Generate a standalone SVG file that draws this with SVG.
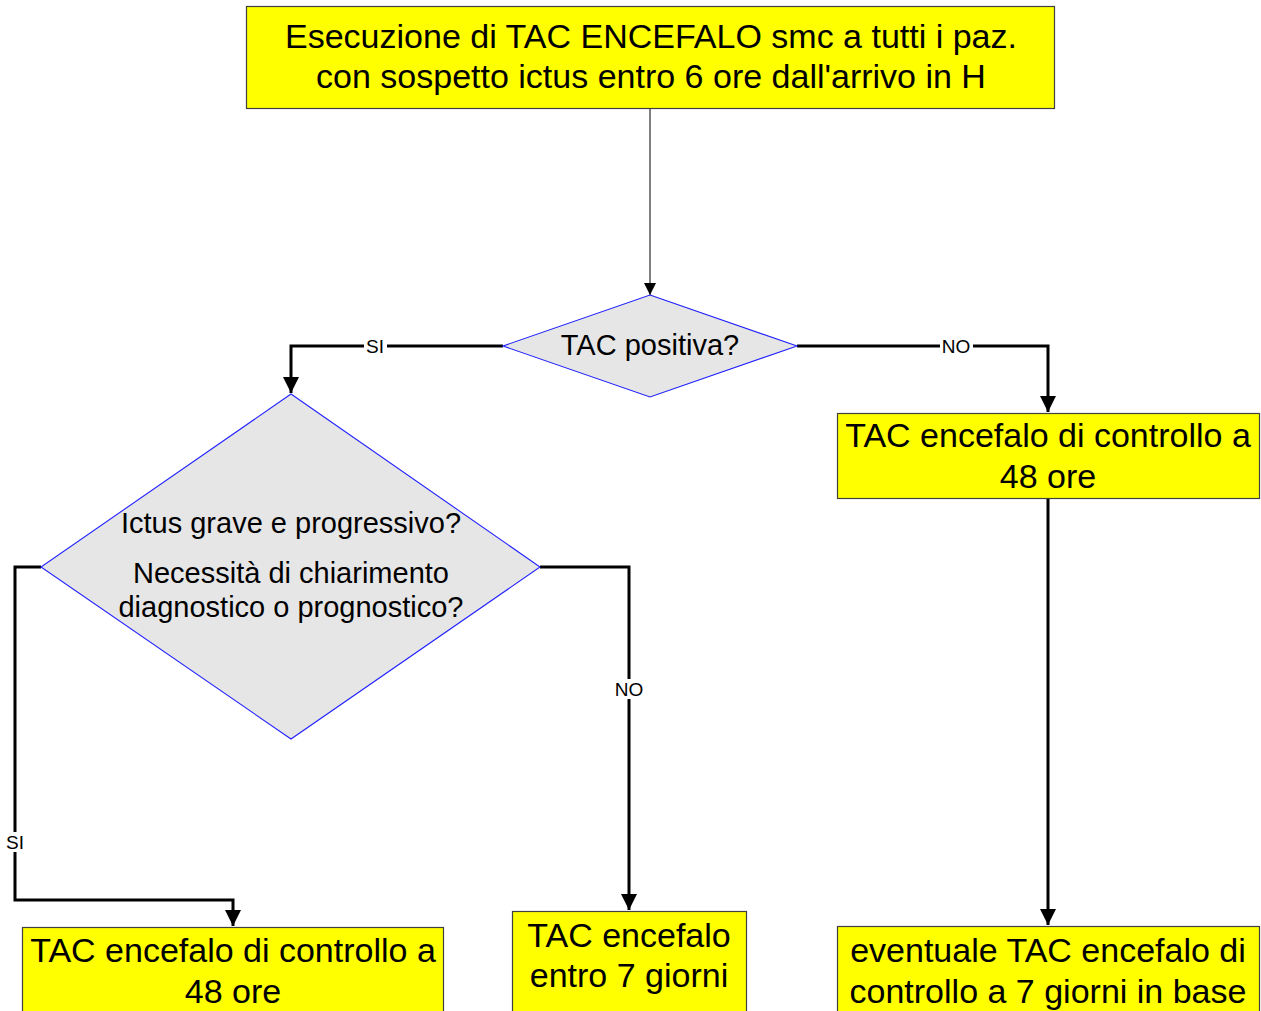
<svg xmlns="http://www.w3.org/2000/svg" width="1261" height="1011" viewBox="0 0 1261 1011">
<defs>
<style>
.box{fill:#ffff00;stroke:#404040;stroke-width:1.2}
.dia{fill:#e6e6e6;stroke:#2222ff;stroke-width:1.1}
.t{font-family:"Liberation Sans",Arial,sans-serif;fill:#000;text-anchor:middle}
.big{font-size:34px}
.mid{font-size:29px}
.lbl{font-size:19px}
.thick{fill:none;stroke:#000;stroke-width:3}
.thin{fill:none;stroke:#000;stroke-width:1}
.bg{fill:#fff}
</style>
<marker id="ah" markerUnits="userSpaceOnUse" markerWidth="16" markerHeight="18" refX="16" refY="8" orient="auto">
<path d="M0,0 L16,8 L0,16 Z" fill="#000"/>
</marker>
<marker id="ahs" markerUnits="userSpaceOnUse" markerWidth="13" markerHeight="12" refX="12" refY="6" orient="auto">
<path d="M0,0 L12,6 L0,12 Z" fill="#000"/>
</marker>
</defs>

<g id="connectors">
<path class="thin" d="M650,109 L650,295" marker-end="url(#ahs)"/>
<path class="thick" d="M503,346 L291,346 L291,393" marker-end="url(#ah)"/>
<path class="thick" d="M797,346 L1048,346 L1048,412" marker-end="url(#ah)"/>
<path class="thick" d="M41,567 L15,567 L15,900 L233,900 L233,926" marker-end="url(#ah)"/>
<path class="thick" d="M540,567 L629,567 L629,910" marker-end="url(#ah)"/>
<path class="thick" d="M1048,499 L1048,925" marker-end="url(#ah)"/>
<rect class="bg" x="364" y="336" width="23" height="20"/>
<text class="t lbl" x="375" y="353">SI</text>
<rect class="bg" x="940" y="336" width="33" height="20"/>
<text class="t lbl" x="956" y="353">NO</text>
<rect class="bg" x="4" y="832" width="23" height="20"/>
<text class="t lbl" x="15" y="849">SI</text>
<rect class="bg" x="613" y="679" width="33" height="20"/>
<text class="t lbl" x="629" y="696">NO</text>
</g>

<g id="start">
<rect class="box" x="246.5" y="6.5" width="808" height="102"/>
<text class="t big" x="651" y="48">Esecuzione di TAC ENCEFALO smc a tutti i paz.</text>
<text class="t big" x="651" y="88">con sospetto ictus entro 6 ore dall'arrivo in H</text>
</g>

<g id="dec1">
<polygon class="dia" points="650,295 797,346 650,397 503,346"/>
<text class="t mid" x="650" y="355">TAC positiva?</text>
</g>

<g id="dec2">
<polygon class="dia" points="291,394 540,567 291,739 41,567"/>
<text class="t mid" x="291" y="533">Ictus grave e progressivo?</text>
<text class="t mid" x="291" y="583">Necessità di chiarimento</text>
<text class="t mid" x="291" y="617">diagnostico o prognostico?</text>
</g>

<g id="ctrl48right">
<rect class="box" x="837.5" y="413.5" width="422" height="85"/>
<text class="t big" x="1048" y="447">TAC encefalo di controllo a</text>
<text class="t big" x="1048" y="488">48 ore</text>
</g>

<g id="ctrl48left">
<rect class="box" x="22.5" y="927.5" width="421" height="100"/>
<text class="t big" x="233" y="962">TAC encefalo di controllo a</text>
<text class="t big" x="233" y="1003">48 ore</text>
</g>

<g id="entro7">
<rect class="box" x="512.5" y="911.5" width="234" height="110"/>
<text class="t big" x="629" y="947">TAC encefalo</text>
<text class="t big" x="629" y="987">entro 7 giorni</text>
</g>

<g id="eventuale">
<rect class="box" x="837.5" y="926.5" width="422" height="100"/>
<text class="t big" x="1048" y="962">eventuale TAC encefalo di</text>
<text class="t big" x="1048" y="1003">controllo a 7 giorni in base</text>
</g>
</svg>
